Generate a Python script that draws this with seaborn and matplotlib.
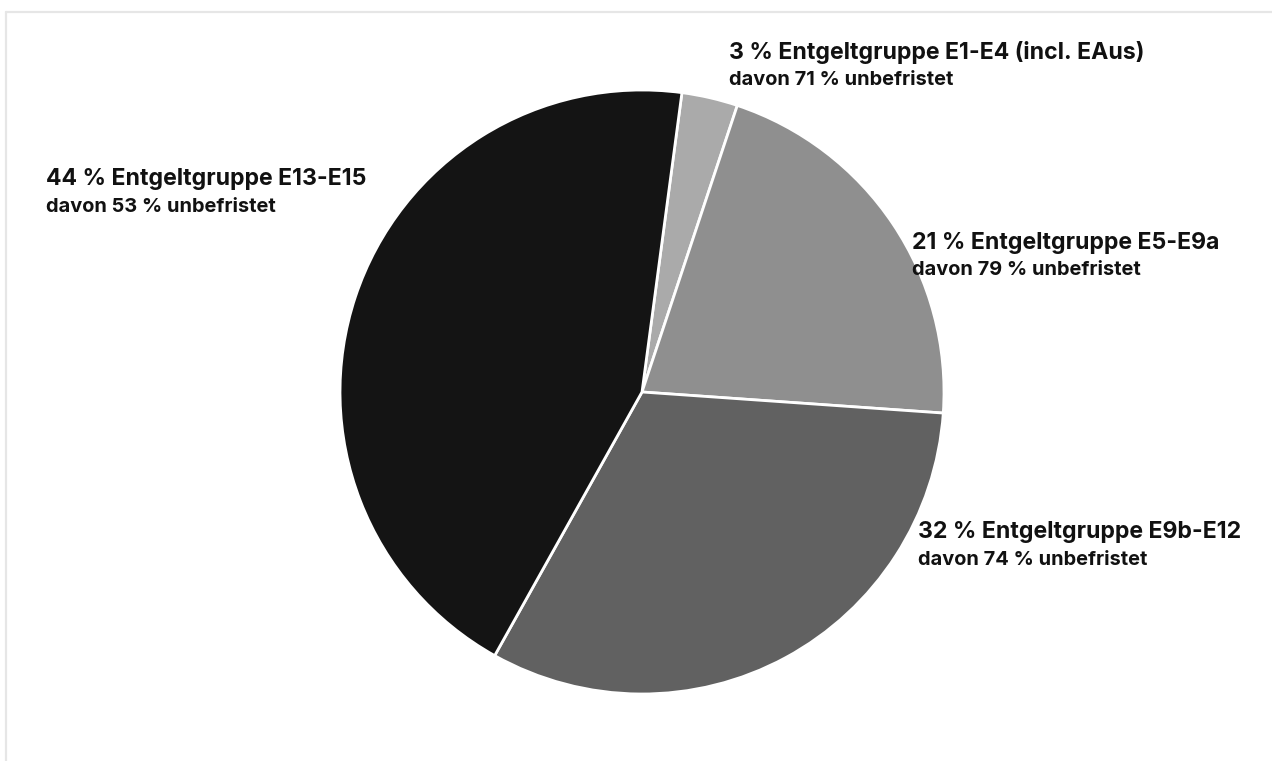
import matplotlib
matplotlib.use("Agg")
import matplotlib.pyplot as plt
import seaborn as sns
from matplotlib.lines import Line2D

categories = ["E1-E4 (incl. EAus)", "E5-E9a", "E9b-E12", "E13-E15"]
shares = [3, 21, 32, 44]
unbefristet = [71, 79, 74, 53]
colors = ["#aaaaaa", "#8f8f8f", "#616161", "#141414"]

sns.set_theme(style="white")
plt.rcParams["font.family"] = ["Inter", "DejaVu Sans"]

W, H = 1272, 761
fig = plt.figure(figsize=(W / 100, H / 100), dpi=100)
ax = fig.add_axes([0, 0, 1, 1])

palette = sns.color_palette(colors)
ax.pie(shares, colors=palette, startangle=82.4, counterclock=False,
       center=(642, H - 392), radius=302, frame=False,
       wedgeprops=dict(edgecolor="white", linewidth=2.0))
ax.set_xlim(0, W)
ax.set_ylim(0, H)
ax.set_aspect("equal")
ax.axis("off")

# light frame
fig.add_artist(Line2D([6 / W, 1], [1 - 11.5 / H, 1 - 11.5 / H], color="#e6e6e6", lw=1.6,
                      transform=fig.transFigure))
fig.add_artist(Line2D([6 / W, 6 / W], [0, 1 - 11.5 / H], color="#e6e6e6", lw=1.6,
                      transform=fig.transFigure))

label_pos = [(729, 53, 80), (912, 243, 270), (918, 532, 560), (46, 179, 207)]
for cat, s, u, (x, y1, y2) in zip(categories, shares, unbefristet, label_pos):
    ax.text(x, H - y1, f"{s} % Entgeltgruppe {cat}", fontsize=16.6, fontweight="bold",
            ha="left", va="center", color="#111111")
    ax.text(x, H - y2, f"davon {u} % unbefristet", fontsize=14.4, fontweight="bold",
            ha="left", va="center", color="#111111")

fig.savefig("out.png", dpi=100, facecolor="white")
